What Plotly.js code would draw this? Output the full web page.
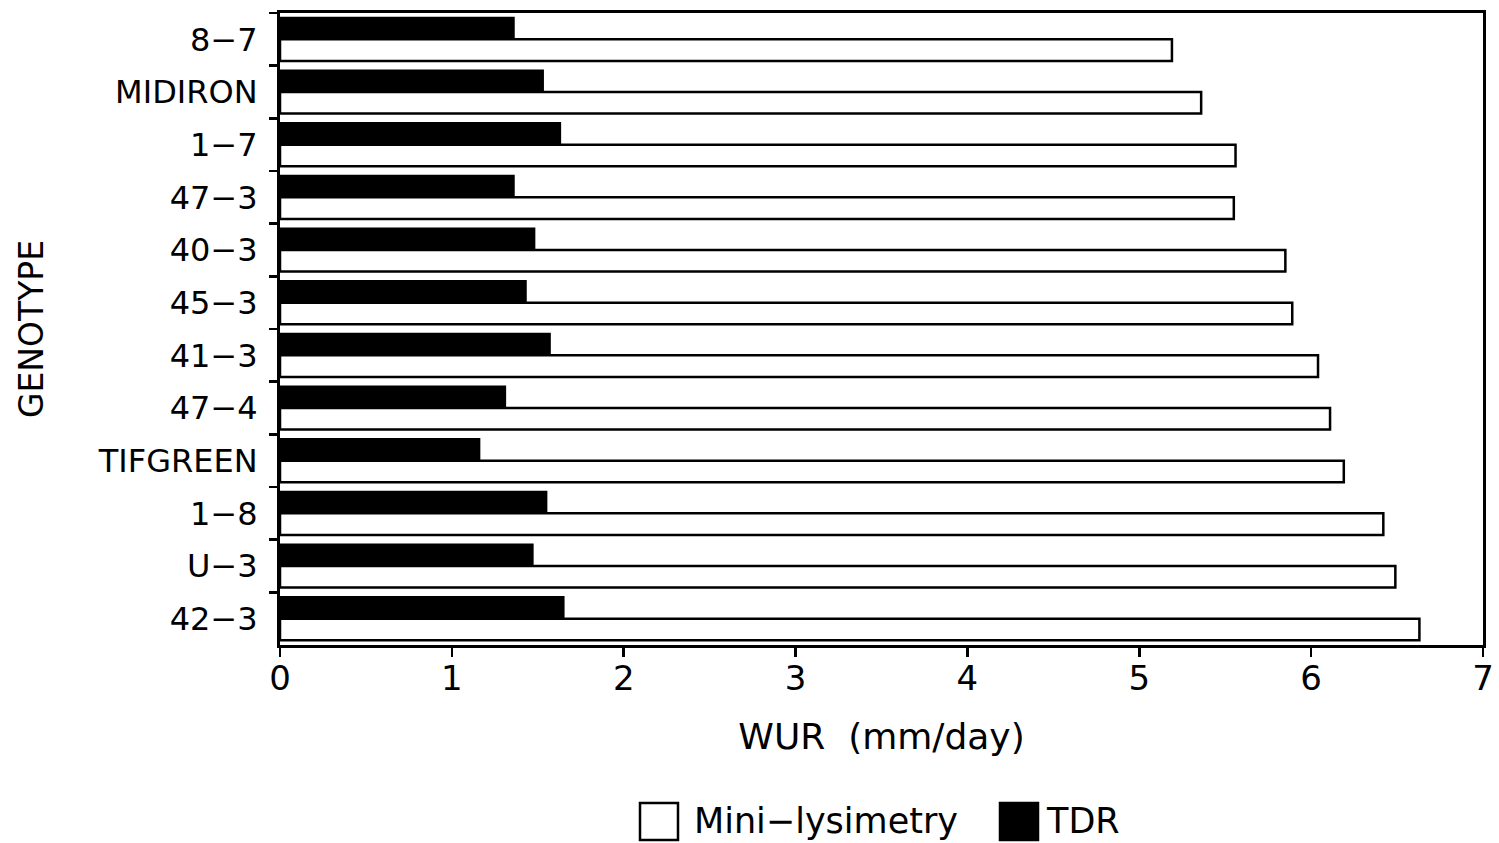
<!DOCTYPE html>
<html>
<head>
<meta charset="utf-8">
<script src="https://cdn.plot.ly/plotly-3.0.1.min.js"></script>
<style>html,body{margin:0;padding:0;background:#fff;}#chart{width:1499px;height:843px;}</style>
</head>
<body>
<div id="chart"></div>
<script>
// Categories listed top to bottom as in the figure
const genotypes = ["8−7", "MIDIRON", "1−7", "47−3", "40−3", "45−3", "41−3", "47−4", "TIFGREEN", "1−8", "U−3", "42−3"];
const tdrValues = [1.36, 1.53, 1.63, 1.36, 1.48, 1.43, 1.57, 1.31, 1.16, 1.55, 1.47, 1.65];
const miniValues = [5.19, 5.36, 5.56, 5.55, 5.85, 5.89, 6.04, 6.11, 6.19, 6.42, 6.49, 6.63];
const seriesNames = ["Mini−lysimetry", "TDR"];
const xTicks = [0, 1, 2, 3, 4, 5, 6, 7];
const xTitle = "WUR  (mm/day)";
const yTitle = "GENOTYPE";

const FONT = "DejaVu Sans, Liberation Sans, Arial, sans-serif";

const traces = [
  {
    type: "bar", orientation: "h", name: seriesNames[1],
    y: genotypes, x: tdrValues,
    marker: {color: "#000", line: {color: "#000", width: 2}},
    showlegend: false, hoverinfo: "x+y"
  },
  {
    type: "bar", orientation: "h", name: seriesNames[0],
    y: genotypes, x: miniValues,
    marker: {color: "#fff", line: {color: "#000", width: 2.5}},
    showlegend: false, hoverinfo: "x+y"
  }
];

// paper-coordinate helpers for the hand-drawn legend
const L = 280, R = 1483, T = 13, B = 645;
const px = v => (v - L) / (R - L);
const py = v => (B - v) / (B - T);

const layout = {
  width: 1499, height: 843,
  margin: {l: L, r: 1499 - R, t: T, b: 843 - B, pad: 0},
  paper_bgcolor: "#fff", plot_bgcolor: "#fff",
  font: {family: FONT, color: "#000", size: 33},
  barmode: "group", bargap: 0.18, bargroupgap: 0,
  xaxis: {
    range: [0, 7], tickvals: xTicks, ticktext: xTicks.map(String),
    showgrid: false, zeroline: false,
    showline: true, linecolor: "#000", linewidth: 3, mirror: true,
    ticks: "outside", ticklen: 9, tickwidth: 2.5, tickcolor: "#000",
    tickfont: {family: FONT, size: 34, color: "#000"},
    ticklabelstandoff: -8,
    title: {text: xTitle, font: {family: FONT, size: 36, color: "#000"}, standoff: 28}
  },
  yaxis: {
    type: "category", autorange: "reversed",
    showgrid: false, zeroline: false,
    showline: true, linecolor: "#000", linewidth: 3, mirror: true,
    ticks: "outside", ticklen: 8, tickwidth: 2.5, tickcolor: "#000", tickson: "boundaries",
    tickfont: {family: FONT, size: 32, color: "#000"},
    ticklabelstandoff: 13,
    title: {text: yTitle, font: {family: FONT, size: 33, color: "#000"}, standoff: 45}
  },
  shapes: [
    {type: "rect", xref: "paper", yref: "paper", x0: px(640), x1: px(678), y0: py(840), y1: py(803),
     fillcolor: "#fff", line: {color: "#000", width: 2.5}},
    {type: "rect", xref: "paper", yref: "paper", x0: px(1000), x1: px(1038), y0: py(840), y1: py(803),
     fillcolor: "#000", line: {color: "#000", width: 2.5}}
  ],
  annotations: [
    {xref: "paper", yref: "paper", x: px(692), y: py(821), xanchor: "left", yanchor: "middle",
     text: seriesNames[0], showarrow: false, font: {family: FONT, size: 35, color: "#000"}},
    {xref: "paper", yref: "paper", x: px(1044), y: py(821), xanchor: "left", yanchor: "middle",
     text: seriesNames[1], showarrow: false, font: {family: FONT, size: 35, color: "#000"}}
  ]
};

Plotly.newPlot("chart", traces, layout, {displayModeBar: false, staticPlot: true});
</script>
</body>
</html>
